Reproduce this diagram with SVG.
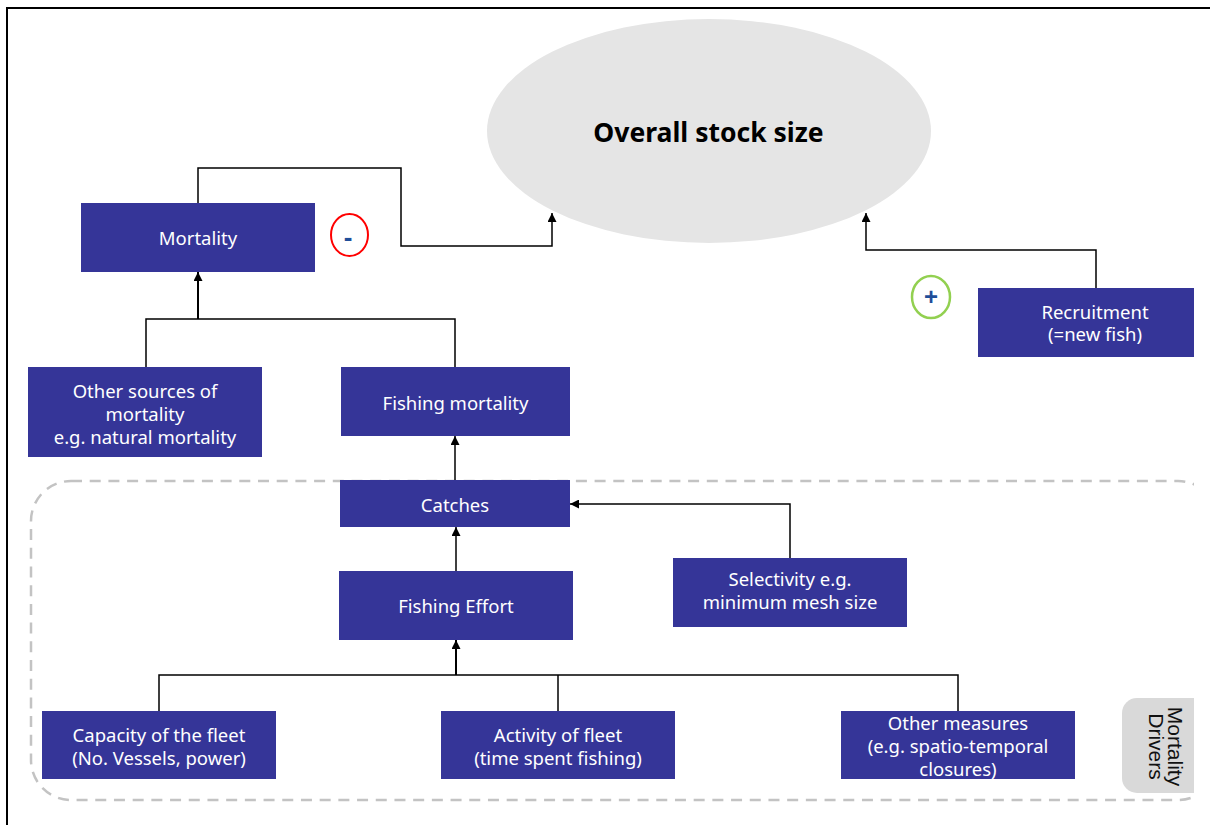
<svg xmlns="http://www.w3.org/2000/svg" width="1210" height="825" viewBox="0 0 1210 825">
  <style>
    .box { fill: #353598; }
    .lbl { font-family: "Noto Sans", "DejaVu Sans", sans-serif; font-size: 18.5px; fill: #ffffff; text-anchor: middle; }
    .title { font-family: "Noto Sans", "DejaVu Sans", sans-serif; font-size: 26.5px; font-weight: bold; fill: #000000; text-anchor: middle; }
    .conn { fill: none; stroke: #000000; stroke-width: 1.5; }
    .trunk { stroke-width: 2; }
    .tag { font-family: "Liberation Sans", Arial, sans-serif; font-size: 21px; fill: #111111; text-anchor: middle; }
    .sign { font-family: "Liberation Sans", Arial, sans-serif; font-weight: bold; fill: #1f4e99; text-anchor: middle; }
  </style>
  <defs>
    <marker id="arr" viewBox="0 0 10 10" refX="10" refY="5" markerWidth="10" markerHeight="9" markerUnits="userSpaceOnUse" orient="auto">
      <path d="M0,0 L10,5 L0,10 Z" fill="#000000"/>
    </marker>
    <clipPath id="clipR">
      <rect x="0" y="0" width="1194" height="825"/>
    </clipPath>
  </defs>

  <rect width="1210" height="825" fill="#ffffff"/>
  <!-- page frame -->
  <rect x="7" y="8" width="1230" height="840" fill="none" stroke="#000000" stroke-width="2"/>

  <!-- dashed group frame and tag -->
  <g id="mortality-drivers" clip-path="url(#clipR)">
    <rect x="31" y="481" width="1187" height="319" rx="40" ry="40" fill="none" stroke="#c3c3c3" stroke-width="2.5" stroke-dasharray="11 7.7"/>
    <path d="M1194,698 H1137 A15,15 0 0 0 1122,713 V778 A15,15 0 0 0 1137,793 H1194 Z" fill="#d9d9d9"/>
    <text class="tag" transform="translate(1168,746.5) rotate(90)">Mortality</text>
    <text class="tag" transform="translate(1149,746.5) rotate(90)">Drivers</text>
  </g>

  <g id="stock">
    <ellipse cx="709" cy="131" rx="222" ry="112" fill="#e5e5e5"/>
    <text class="title" x="708.5" y="141.5">Overall stock size</text>
  </g>

  <g id="connectors">
    <path class="conn" d="M198,203 V168 H401 V246 H552 V213" marker-end="url(#arr)"/>
    <path class="conn" d="M1096,288 V250 H866 V213" marker-end="url(#arr)"/>
    <path class="conn" d="M146,367 V319 H455 V367"/>
    <path class="conn trunk" d="M198,319 V272" marker-end="url(#arr)"/>
    <path class="conn" d="M455,480 V436" marker-end="url(#arr)"/>
    <path class="conn" d="M790,558 V504 H570" marker-end="url(#arr)"/>
    <path class="conn" d="M456,571 V527" marker-end="url(#arr)"/>
    <path class="conn" d="M159,711 V675 H958 V711"/>
    <path class="conn" d="M558,675 V711"/>
    <path class="conn trunk" d="M456,675 V640" marker-end="url(#arr)"/>
  </g>

  <g id="mortality">
    <rect class="box" x="81" y="203" width="234" height="69"/>
    <text class="lbl" x="198" y="245">Mortality</text>
  </g>

  <g id="minus-sign">
    <ellipse cx="349.5" cy="235" rx="18.5" ry="21" fill="none" stroke="#ff0000" stroke-width="2"/>
    <text class="sign" x="348" y="246" font-size="26">-</text>
  </g>

  <g id="plus-sign">
    <ellipse cx="931" cy="297" rx="19" ry="21" fill="none" stroke="#92d050" stroke-width="2.5"/>
    <text class="sign" x="931" y="305" font-size="24">+</text>
  </g>

  <g id="recruitment">
    <rect class="box" x="978" y="288" width="216" height="69"/>
    <text class="lbl" x="1095" y="318.5">Recruitment</text>
    <text class="lbl" x="1095" y="341">(=new fish)</text>
  </g>

  <g id="other-sources">
    <rect class="box" x="28" y="367" width="234" height="90"/>
    <text class="lbl" x="145" y="397.5">Other sources of</text>
    <text class="lbl" x="145" y="420.5">mortality</text>
    <text class="lbl" x="145" y="443.5">e.g. natural mortality</text>
  </g>

  <g id="fishing-mortality">
    <rect class="box" x="341" y="367" width="229" height="69"/>
    <text class="lbl" x="455.5" y="410">Fishing mortality</text>
  </g>

  <g id="catches">
    <rect class="box" x="340" y="480" width="230" height="47"/>
    <text class="lbl" x="455" y="512">Catches</text>
  </g>

  <g id="selectivity">
    <rect class="box" x="673" y="558" width="234" height="69"/>
    <text class="lbl" x="790" y="585.5">Selectivity e.g.</text>
    <text class="lbl" x="790" y="608.5">minimum mesh size</text>
  </g>

  <g id="fishing-effort">
    <rect class="box" x="339" y="571" width="234" height="69"/>
    <text class="lbl" x="456" y="613">Fishing Effort</text>
  </g>

  <g id="capacity">
    <rect class="box" x="42" y="711" width="234" height="68"/>
    <text class="lbl" x="159" y="742">Capacity of the fleet</text>
    <text class="lbl" x="159" y="765">(No. Vessels, power)</text>
  </g>

  <g id="activity">
    <rect class="box" x="441" y="711" width="234" height="68"/>
    <text class="lbl" x="558" y="742">Activity of fleet</text>
    <text class="lbl" x="558" y="765">(time spent fishing)</text>
  </g>

  <g id="other-measures">
    <rect class="box" x="841" y="711" width="234" height="68"/>
    <text class="lbl" x="958" y="730">Other measures</text>
    <text class="lbl" x="958" y="753">(e.g. spatio-temporal</text>
    <text class="lbl" x="958" y="775.5">closures)</text>
  </g>
</svg>
